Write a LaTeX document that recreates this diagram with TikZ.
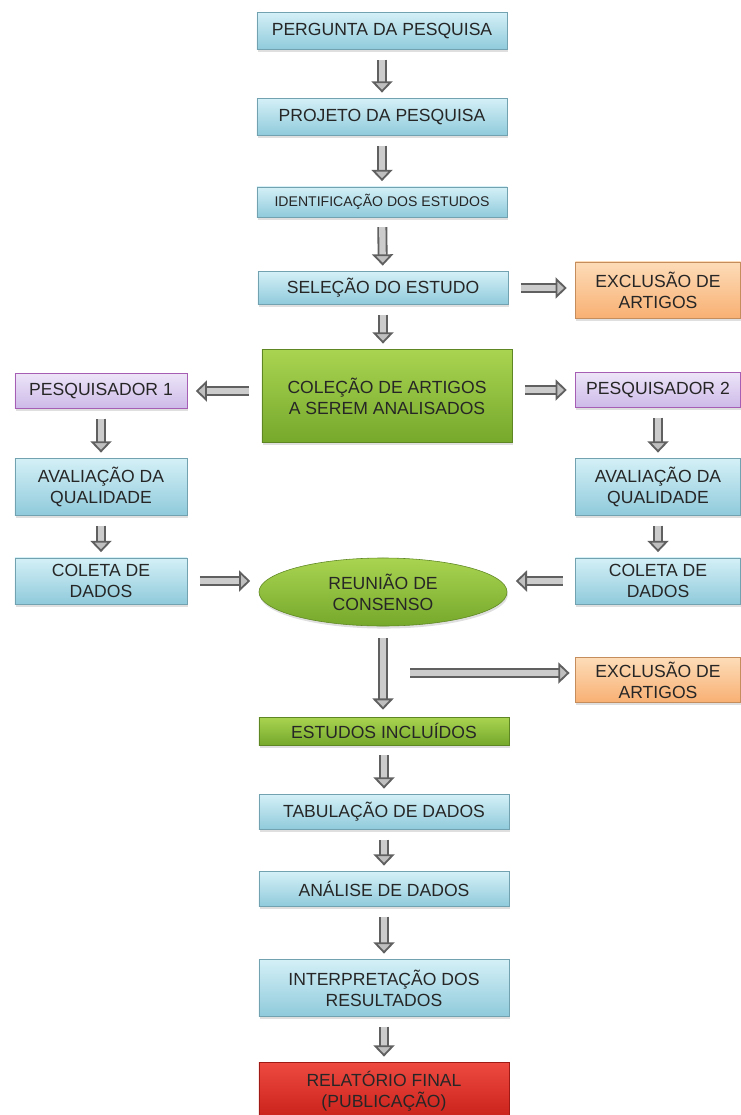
\documentclass[tikz,border=0pt]{standalone}
\usepackage{fontspec}
\setmainfont{Liberation Sans}
\usetikzlibrary{shapes.geometric,arrows.meta,shadows}
\definecolor{azulA}{HTML}{D4F0F7}
\definecolor{azulB}{HTML}{8FCADB}
\definecolor{verdeA}{HTML}{A9D451}
\definecolor{verdeB}{HTML}{76A82B}
\definecolor{laranjaA}{HTML}{FDDCB8}
\definecolor{laranjaB}{HTML}{F8B073}
\definecolor{roxoA}{HTML}{EDE5F8}
\definecolor{roxoB}{HTML}{CDB9E8}
\definecolor{vermA}{HTML}{EE4A40}
\definecolor{vermB}{HTML}{C8201A}
\tikzset{
  caixa/.style={rectangle, minimum width=6.25cm, minimum height=0.9cm, align=center,
    font=\fontsize{12.5}{15}\selectfont, text=black!85, inner sep=2pt,
    drop shadow={shadow xshift=0.6pt, shadow yshift=-1.8pt, opacity=0.25}},
  azul/.style={caixa, draw=azulB!80!black, top color=azulA, bottom color=azulB},
  verde/.style={caixa, draw=verdeB!80!black, top color=verdeA, bottom color=verdeB},
  laranja/.style={caixa, draw=laranjaB!80!black, top color=laranjaA, bottom color=laranjaB,
    minimum width=4.125cm, minimum height=1.4cm},
  roxo/.style={caixa, draw=roxoB!50!violet, top color=roxoA, bottom color=roxoB},
  vermelho/.style={caixa, draw=vermB!80!black, top color=vermA, bottom color=vermB},
  seta/.style={draw=gray!75!black, line width=1.3pt, double=gray!40, double distance=4.5pt,
    -{Triangle[length=8pt,width=15pt,fill=gray!50,line width=1.3pt]},
    shorten <=7pt, shorten >=4pt},
  setah/.style={seta, shorten <=9pt, shorten >=6pt},
}
\begin{document}
\begin{tikzpicture}[x=0.025cm, y=-0.025cm]
\useasboundingbox (0,0) rectangle (741,1115);
% coluna central
\node[azul, minimum height=0.925cm] (perg) at (382,31) {PERGUNTA DA PESQUISA};
\node[azul, minimum height=0.925cm] (proj) at (382,117) {PROJETO DA PESQUISA};
\node[azul, minimum height=0.75cm, font=\fontsize{10}{12}\selectfont] (ident) at (382,202) {IDENTIFICAÇÃO DOS ESTUDOS};
\node[azul, minimum height=0.825cm] (sel) at (383,288) {SELEÇÃO DO ESTUDO};
\node[laranja] (exc1) at (658,290) {EXCLUSÃO DE\\ARTIGOS};
\node[verde, minimum height=2.325cm] (col) at (387,396) {COLEÇÃO DE ARTIGOS\\A SEREM ANALISADOS};
% pesquisadores
\node[roxo, minimum width=4.3cm, minimum height=0.875cm] (pq1) at (101,391) {PESQUISADOR 1};
\node[roxo, minimum width=4.125cm, minimum height=0.875cm] (pq2) at (658,390) {PESQUISADOR 2};
\node[azul, minimum width=4.3cm, minimum height=1.425cm] (av1) at (101,487) {AVALIAÇÃO DA\\QUALIDADE};
\node[azul, minimum width=4.125cm, minimum height=1.425cm] (av2) at (658,487) {AVALIAÇÃO DA\\QUALIDADE};
\node[azul, minimum width=4.3cm, minimum height=1.15cm] (ct1) at (101,581) {COLETA DE\\DADOS};
\node[azul, minimum width=4.125cm, minimum height=1.15cm] (ct2) at (658,581) {COLETA DE\\DADOS};
\node[verde, ellipse, minimum width=6.2cm, minimum height=1.7cm] (reu) at (383,592) {REUNIÃO DE\\CONSENSO};
\node[laranja, minimum height=1.125cm] (exc2) at (658,680) {EXCLUSÃO DE\\ARTIGOS};
% parte final
\node[verde, minimum height=0.7cm] (est) at (384,731) {ESTUDOS INCLUÍDOS};
\node[azul, minimum height=0.875cm] (tab) at (384,812) {TABULAÇÃO DE DADOS};
\node[azul, minimum height=0.875cm] (ana) at (384,889) {ANÁLISE DE DADOS};
\node[azul, minimum height=1.425cm] (int) at (384,988) {INTERPRETAÇÃO DOS\\RESULTADOS};
\node[vermelho, minimum height=1.425cm] (rel) at (384,1091) {RELATÓRIO FINAL\\(PUBLICAÇÃO)};
\coordinate (saida) at (410,673);
% setas
\draw[seta] (perg) -- (proj);
\draw[seta] (proj) -- (ident);
\draw[seta] (ident) -- (sel);
\draw[setah] (sel) -- (exc1.west |- sel);
\draw[seta] (sel.south) -- (sel.south |- col.north);
\draw[setah] (col.west |- pq1) -- (pq1);
\draw[setah] (col.east |- pq2) -- (pq2);
\draw[seta] (pq1) -- (av1);
\draw[seta] (av1) -- (ct1);
\draw[seta] (pq2) -- (av2);
\draw[seta] (av2) -- (ct2);
\draw[setah] (ct1.east) -- (ct1.east -| reu.west);
\draw[setah] (ct2.west) -- (ct2.west -| reu.east);
\draw[seta, shorten <=8.5pt, shorten >=5pt] (reu.south) -- (reu.south |- est.north);
\draw[seta, shorten <=0pt] (saida) -- (saida -| exc2.west);
\draw[seta] (est) -- (tab);
\draw[seta] (tab) -- (ana);
\draw[seta] (ana) -- (int);
\draw[seta] (int) -- (rel);
\end{tikzpicture}
\end{document}
